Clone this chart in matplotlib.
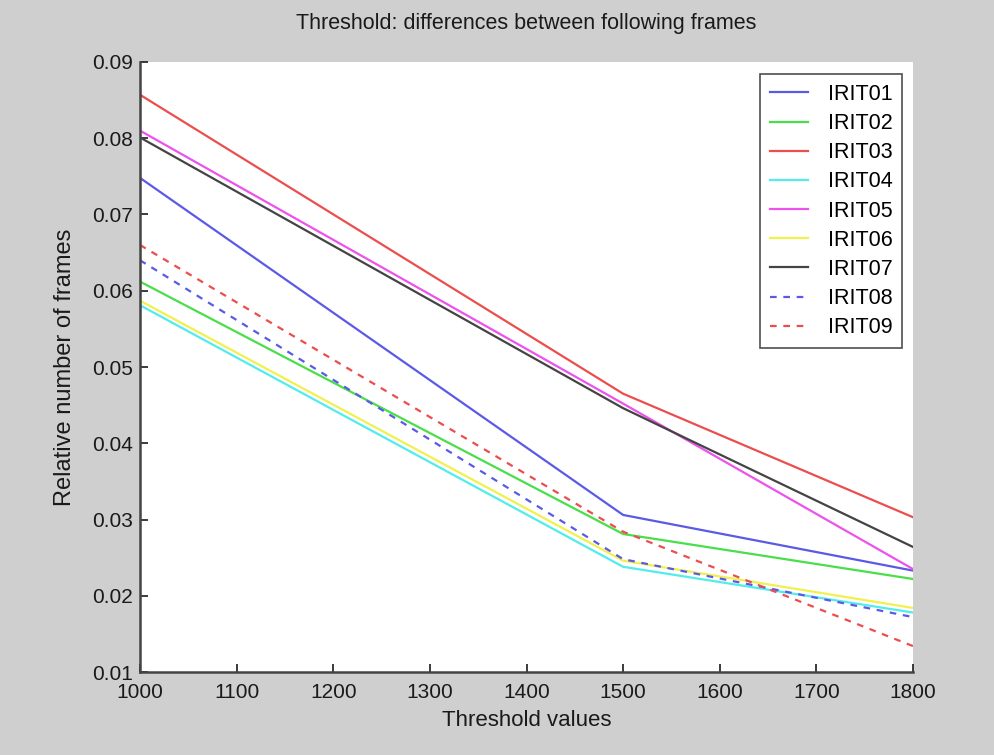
import matplotlib
matplotlib.use("Agg")
import matplotlib.pyplot as plt

plt.rcParams['font.family'] = ['Liberation Sans', 'DejaVu Sans']

# threshold values (x) and relative number of frames per video
thresholds = [1000, 1500, 1800]
names = ["IRIT01", "IRIT02", "IRIT03", "IRIT04", "IRIT05",
         "IRIT06", "IRIT07", "IRIT08", "IRIT09"]
irit01 = [0.0748, 0.0306, 0.0233]
irit02 = [0.0612, 0.0281, 0.0222]
irit03 = [0.0857, 0.0465, 0.0303]
irit04 = [0.0581, 0.0238, 0.0178]
irit05 = [0.0810, 0.0452, 0.0235]
irit06 = [0.0587, 0.0246, 0.0184]
irit07 = [0.0801, 0.0446, 0.0264]
irit08 = [0.0640, 0.0248, 0.0172]
irit09 = [0.0660, 0.0284, 0.0134]
series = [irit01, irit02, irit03, irit04, irit05, irit06, irit07, irit08, irit09]

colors = ["#5a5ae6", "#4ade4a", "#ec4d4d", "#52ecec", "#ec52ec",
          "#f0f04e", "#444444", "#5a5ae6", "#ec4d4d"]
styles = ["-"] * 7 + [(0, (3, 3))] * 2

fig = plt.figure(figsize=(9.95, 7.55), dpi=100, facecolor="#cfcfcf")
ax = fig.add_axes([0.1407, 0.1099, 0.7769, 0.808])

for name, vals, c, ls in zip(names, series, colors, styles):
    ax.plot(thresholds, vals, color=c, linestyle=ls, linewidth=1.6, label=name)

ax.set_xlim(1000, 1800)
ax.set_ylim(0.01, 0.09)
ax.set_xticks(range(1000, 1801, 100))
ax.set_yticks([0.01, 0.02, 0.03, 0.04, 0.05, 0.06, 0.07, 0.08, 0.09])
ax.set_yticklabels(["0.01", "0.02", "0.03", "0.04", "0.05", "0.06", "0.07", "0.08", "0.09"])
ax.tick_params(direction="in", length=6, width=1.2, labelsize=15, colors="#1a1a1a")
ax.tick_params(axis="x", pad=8)
ax.tick_params(axis="y", pad=5)

for s in ["top", "right"]:
    ax.spines[s].set_visible(False)
for s in ["left", "bottom"]:
    ax.spines[s].set_linewidth(1.8)
    ax.spines[s].set_color("#444444")

ax.set_title("Threshold: differences between following frames", fontsize=15.5, pad=24, color="#1a1a1a")
ax.set_xlabel("Threshold values", fontsize=16, labelpad=6, color="#1a1a1a")
ax.set_ylabel("Relative number of frames", fontsize=17, labelpad=12, color="#1a1a1a")

leg = ax.legend(loc="upper right", fontsize=15.5, frameon=True, fancybox=False,
                handlelength=1.8, handletextpad=0.9, labelspacing=0.38,
                borderpad=0.45, borderaxespad=0, bbox_to_anchor=(0.986, 0.98))
leg.get_frame().set_edgecolor("#222222")
leg.get_frame().set_linewidth(1.2)

fig.savefig("out.png", dpi=100, facecolor=fig.get_facecolor())
